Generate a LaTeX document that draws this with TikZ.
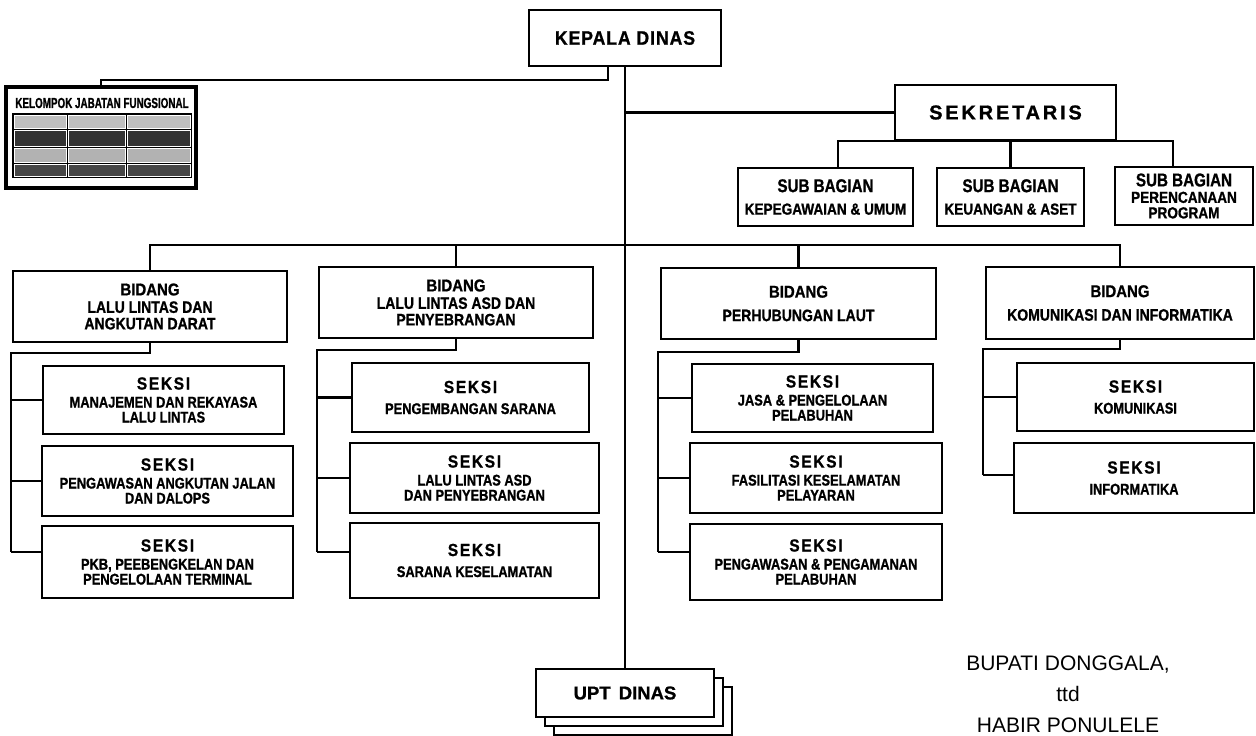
\documentclass[tikz,border=0pt]{standalone}
\usepackage{fontspec}
\setmainfont{Liberation Sans}
\newfontfamily\fsubt[FakeStretch=0.83,FakeBold=1]{Liberation Sans}
\newfontfamily\fsubbt[FakeStretch=0.85,FakeBold=1]{Liberation Sans}
\newfontfamily\fcondt[FakeStretch=0.82,FakeBold=1]{Liberation Sans}
\newfontfamily\fkjft[FakeStretch=0.68,FakeBold=1]{Liberation Sans}
\newfontfamily\fseksit[FakeStretch=0.88,LetterSpace=10,FakeBold=1]{Liberation Sans}
\newfontfamily\fbidt[FakeStretch=0.88,FakeBold=1]{Liberation Sans}
\newfontfamily\fsekrt[LetterSpace=14,FakeBold=1]{Liberation Sans}
\newfontfamily\fkdt[FakeStretch=0.9,LetterSpace=5,FakeBold=1]{Liberation Sans}
\newfontfamily\fuptt[FakeBold=1]{Liberation Sans}
\newcommand\TSeksi{\fseksit\bfseries\fontsize{17.5}{18}\selectfont}
\newcommand\TBid{\fbidt\bfseries\fontsize{17}{17}\selectfont}
\newcommand\SubS{\fsubt\bfseries\fontsize{15.5}{15}\selectfont}
\newcommand\SubB{\fsubbt\bfseries\fontsize{16.5}{16.5}\selectfont}
\newcommand\TSub{\fcondt\bfseries\fontsize{18.5}{18}\selectfont}
\newcommand\SubSB{\fsubbt\bfseries\fontsize{16}{15.5}\selectfont}
\pgfdeclarelayer{bg}
\pgfsetlayers{bg,main}
\tikzset{
  box/.style={draw, line width=2.8pt, fill=white, align=center, inner sep=0pt},
  seksibox/.style={box, font=\SubS},
  bidbox/.style={box, font=\SubB},
  sbbox/.style={box, font=\SubSB},
  conn/.style={line width=2.6pt},
  cell/.style={draw=white, line width=0.8pt},
}
\begin{document}
\begin{tikzpicture}[x=1pt,y=-1pt]
\useasboundingbox (0,0) rectangle (1256,736);

% top
\node[box, minimum width=192pt, minimum height=56pt, font={\fkdt\bfseries\fontsize{19.5}{20}\selectfont}] (kd) at (625,38) {KEPALA DINAS};
\node[box, minimum width=221pt, minimum height=55pt, font={\fsekrt\bfseries\fontsize{20}{22}\selectfont}] (sek) at (1005.5,112.5) {SEKRETARIS};

% kelompok jabatan fungsional
\node[draw, line width=4pt, fill=white, minimum width=190pt, minimum height=101pt, inner sep=0pt] (kjf) at (101,137.5) {};
\node[inner sep=0pt, font={\fkjft\bfseries\fontsize{14.5}{15}\selectfont}] (kjft) at (102,103) {KELOMPOK JABATAN FUNGSIONAL};
\fill[black] (12,113) rectangle (192,178);
\foreach \xa/\xb in {14/66, 68/125, 127/190} {
  \filldraw[cell, fill=gray!50] (\xa,115) rectangle (\xb,128);
  \filldraw[cell, fill=black!80] (\xa,130) rectangle (\xb,146);
  \filldraw[cell, fill=gray!60] (\xa,148) rectangle (\xb,162);
  \filldraw[cell, fill=black!72] (\xa,164) rectangle (\xb,176);
}

% sub bagian
\node[sbbox, minimum width=175pt, minimum height=58pt] (sb1) at (825.5,197) {{\TSub SUB BAGIAN}\\[7pt]KEPEGAWAIAN \& UMUM};
\node[sbbox, minimum width=147pt, minimum height=58pt] (sb2) at (1010.5,197) {{\TSub SUB BAGIAN}\\[7pt]KEUANGAN \& ASET};
\node[sbbox, minimum width=138pt, minimum height=58pt] (sb3) at (1184,196) {{\TSub SUB BAGIAN}\\[1pt]PERENCANAAN\\PROGRAM};

% bidang
\node[bidbox, minimum width=274pt, minimum height=71pt] (b1) at (150,306.5) {{\TBid BIDANG}\\[1pt]LALU LINTAS DAN\\ANGKUTAN DARAT};
\node[bidbox, minimum width=274pt, minimum height=71pt] (b2) at (456,302.5) {{\TBid BIDANG}\\[1pt]LALU LINTAS ASD DAN\\PENYEBRANGAN};
\node[bidbox, minimum width=275pt, minimum height=71pt] (b3) at (798.5,303.5) {{\TBid BIDANG}\\[7pt]PERHUBUNGAN LAUT};
\node[bidbox, minimum width=268pt, minimum height=72pt] (b4) at (1120,303) {{\TBid BIDANG}\\[7pt]KOMUNIKASI DAN INFORMATIKA};

% seksi column 1
\node[seksibox, minimum width=241pt, minimum height=68pt] (s11) at (163.5,400) {{\TSeksi SEKSI}\\[3pt]MANAJEMEN DAN REKAYASA\\LALU LINTAS};
\node[seksibox, minimum width=251pt, minimum height=70pt] (s12) at (167.5,481) {{\TSeksi SEKSI}\\[3pt]PENGAWASAN ANGKUTAN JALAN\\DAN DALOPS};
\node[seksibox, minimum width=251pt, minimum height=72pt] (s13) at (167.5,562) {{\TSeksi SEKSI}\\[3pt]PKB, PEEBENGKELAN DAN\\PENGELOLAAN TERMINAL};
% column 2
\node[seksibox, minimum width=237pt, minimum height=69pt] (s21) at (470.5,397.5) {{\TSeksi SEKSI}\\[6pt]PENGEMBANGAN SARANA};
\node[seksibox, minimum width=249pt, minimum height=70pt] (s22) at (474.5,478) {{\TSeksi SEKSI}\\[3pt]LALU LINTAS ASD\\DAN PENYEBRANGAN};
\node[seksibox, minimum width=249pt, minimum height=75pt] (s23) at (474.5,560.5) {{\TSeksi SEKSI}\\[6pt]SARANA KESELAMATAN};
% column 3
\node[seksibox, minimum width=241pt, minimum height=68pt] (s31) at (812.5,398) {{\TSeksi SEKSI}\\[3pt]JASA \& PENGELOLAAN\\PELABUHAN};
\node[seksibox, minimum width=252pt, minimum height=70pt] (s32) at (816,478) {{\TSeksi SEKSI}\\[3pt]FASILITASI KESELAMATAN\\PELAYARAN};
\node[seksibox, minimum width=252pt, minimum height=76pt] (s33) at (816,562) {{\TSeksi SEKSI}\\[3pt]PENGAWASAN \& PENGAMANAN\\PELABUHAN};
% column 4
\node[seksibox, minimum width=237pt, minimum height=68pt] (s41) at (1135.5,397) {{\TSeksi SEKSI}\\[6pt]KOMUNIKASI};
\node[seksibox, minimum width=240pt, minimum height=70pt] (s42) at (1134,478) {{\TSeksi SEKSI}\\[6pt]INFORMATIKA};

% UPT
\node[box, minimum width=178pt, minimum height=48pt] (upt3) at (643,711) {};
\node[box, minimum width=178pt, minimum height=48pt] (upt2) at (634,702) {};
\node[box, minimum width=178pt, minimum height=48pt, font={\fuptt\bfseries\fontsize{18.5}{20}\selectfont}] (upt) at (625,693) {UPT \hspace{3pt}DINAS};

% signature
\node[align=center, inner sep=0pt, font={\fontsize{21}{31}\selectfont}] (sign) at (1068,694) {BUPATI DONGGALA,\\ttd\\HABIR PONULELE};

% helper coordinates
\coordinate (kb) at (608,80);
\coordinate (sbL) at (838,141);
\coordinate (sbR) at (1173,141);
\coordinate (bb) at (625,245);
\coordinate (r1t) at (11,353);  \coordinate (r1b) at (11,552);
\coordinate (r2t) at (317,350); \coordinate (r2b) at (317,552);
\coordinate (r3t) at (658,352); \coordinate (r3b) at (658,552);
\coordinate (r4t) at (983,349); \coordinate (r4b) at (983,475);

\begin{pgfonlayer}{bg}
\fill[white] (0,0) rectangle (1256,736);
\draw[conn] (kd.south) -- (upt.north);
\draw[conn] (kd.south -| kb) -- (kb) -| (kjf.north);
\draw[conn] (sek.west) -- (sek.west -| kd.south);
\draw[conn] (sb1.north -| sbL) -- (sbL) -- (sbR) -- (sb3.north -| sbR);
\draw[conn] (sb2.north) -- (sb2.north |- sbL);
\draw[conn] (b1.north) |- (bb) -| (b4.north);
\draw[conn] (b2.north) -- (b2.north |- bb);
\draw[conn] (b3.north) -- (b3.north |- bb);
% column 1
\draw[conn] (b1.south) |- (r1t) -- (r1b);
\draw[conn] (r1t |- s11.west) -- (s11.west);
\draw[conn] (r1t |- s12.west) -- (s12.west);
\draw[conn] (r1b) -- (r1b -| s13.west);
% column 2
\draw[conn] (b2.south) |- (r2t) -- (r2b);
\draw[conn] (r2t |- s21.west) -- (s21.west);
\draw[conn] (r2t |- s22.west) -- (s22.west);
\draw[conn] (r2b) -- (r2b -| s23.west);
% column 3
\draw[conn] (b3.south) |- (r3t) -- (r3b);
\draw[conn] (r3t |- s31.west) -- (s31.west);
\draw[conn] (r3t |- s32.west) -- (s32.west);
\draw[conn] (r3b) -- (r3b -| s33.west);
% column 4
\draw[conn] (b4.south) |- (r4t) -- (r4b);
\draw[conn] (r4t |- s41.west) -- (s41.west);
\draw[conn] (r4b) -- (r4b -| s42.west);
\end{pgfonlayer}
\end{tikzpicture}
\end{document}
